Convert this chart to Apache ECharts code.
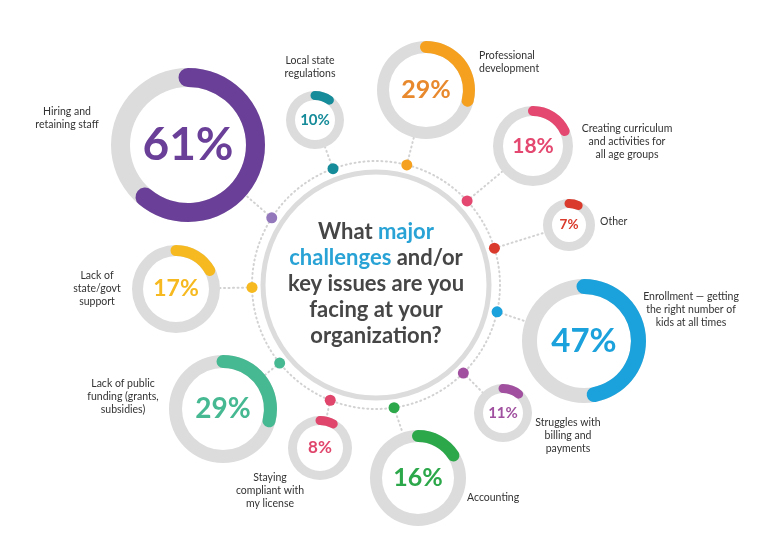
<!DOCTYPE html>
<html><head><meta charset="utf-8">
<script src="https://cdn.jsdelivr.net/npm/echarts@6/dist/echarts.min.js"></script>
<style>html,body{margin:0;padding:0;background:#fff}#c{width:772px;height:534px}</style>
</head><body><div id="c"></div>
<script>
// ---- data ----
const categories = [
  'Hiring and\nretaining staff',
  'Local state\nregulations',
  'Professional\ndevelopment',
  'Creating curriculum\nand activities for\nall age groups',
  'Other',
  'Enrollment — getting\nthe right number of\nkids at all times',
  'Struggles with\nbilling and\npayments',
  'Accounting',
  'Staying\ncompliant with\nmy license',
  'Lack of public\nfunding (grants,\nsubsidies)',
  'Lack of\nstate/govt\nsupport'
];
const values = [61, 10, 29, 18, 7, 47, 11, 16, 8, 29, 17];
const questionLines = [
  [['What ', 0], ['major', 1]],
  [['challenges', 1], [' and/or', 0]],
  [['key issues are you', 0]],
  [['facing at your', 0]],
  [['organization?', 0]]
];

// ---- layout & style ----
const ringCenters = [[188,145],[315,120],[426,90],[533,146],[569,225],[584,341],[503,413],[418,478],[320,448],[223,409],[176,289]];
const ringRadii   = [77, 29, 49, 40, 26, 62, 29, 48, 32, 54, 44];
const ringWidths  = [19, 9, 12, 10, 9, 15, 9, 12, 9, 13, 11];
const valueFontSizes = [46, 15, 25, 21, 13.5, 33, 15, 25, 17, 28, 23];
const labelPositions = [[67,118,'center'],[310,67,'center'],[479,62,'left'],[627,142,'center'],[600,222,'left'],[691,310,'center'],[568,436,'center'],[467,498,'left'],[270,491,'center'],[123,397,'center'],[97,289,'center']];
const dotAngleOffsets = [-3.9, 0, 0, -1.2, 0, -2.6, 0, 3.9, 2.7, 0, 0];
const arcColors  = ['#6A3F98','#168B99','#F5A11F','#E4476F','#D93A2B','#1BA1DB','#A0509F','#2CA84B','#E0456B','#46B892','#F6B91F'];
const textColors = ['#6A3F98','#168B99','#E8892D','#E4476F','#D93A2B','#1BA1DB','#A0509F','#2CA84B','#E0456B','#46B892','#F6B91F'];
const dotColors  = ['#9478BC','#168B99','#F5A11F','#E4476F','#D93A2B','#1BA1DB','#A0509F','#2CA84B','#E0456B','#46B892','#F6B91F'];
const hub = [376, 285];
const hubRadius = 113;
const dotRingRadius = 124;
const trackColor = '#DCDCDC';
const FONT = 'Lato, "Open Sans", sans-serif';

const chart = echarts.init(document.getElementById('c'));

const series = values.map((v, i) => ({
  type: 'gauge',
  center: ringCenters[i],
  radius: ringRadii[i],
  startAngle: 90,
  endAngle: -270,
  min: 0, max: 100,
  animation: false,
  axisLine: { lineStyle: { width: ringWidths[i], color: [[1, trackColor]] } },
  progress: { show: true, width: ringWidths[i], roundCap: true, itemStyle: { color: arcColors[i] } },
  pointer: { show: false },
  anchor: { show: false },
  axisTick: { show: false },
  splitLine: { show: false },
  axisLabel: { show: false },
  title: { show: false },
  detail: {
    offsetCenter: [0, 0],
    formatter: '{value}%',
    fontSize: valueFontSizes[i],
    fontWeight: 'bold',
    fontFamily: FONT,
    color: textColors[i]
  },
  data: [{ value: v, name: categories[i] }]
}));

const graphics = [];
graphics.push({ type: 'circle', z: 0, shape: { cx: hub[0], cy: hub[1], r: dotRingRadius },
  style: { fill: 'none', stroke: '#D2D2D2', lineWidth: 2, lineDash: [1, 3.5], lineCap: 'round' } });
graphics.push({ type: 'circle', z: 1, shape: { cx: hub[0], cy: hub[1], r: hubRadius },
  style: { fill: '#fff', stroke: trackColor, lineWidth: 5 } });

values.forEach((v, i) => {
  const [cx, cy] = ringCenters[i];
  const base = Math.atan2(cy - hub[1], cx - hub[0]) + dotAngleOffsets[i] * Math.PI / 180;
  const px = hub[0] + Math.cos(base) * dotRingRadius, py = hub[1] + Math.sin(base) * dotRingRadius;
  const dx = cx - px, dy = cy - py;
  const len = Math.sqrt(dx * dx + dy * dy);
  const ex = cx - dx / len * ringRadii[i], ey = cy - dy / len * ringRadii[i];
  graphics.push({ type: 'line', z: 0, shape: { x1: px, y1: py, x2: ex, y2: ey },
    style: { stroke: '#D2D2D2', lineWidth: 2, lineDash: [1, 3.5], lineCap: 'round' } });
  graphics.push({ type: 'circle', z: 5, shape: { cx: px, cy: py, r: 5.5 }, style: { fill: dotColors[i] } });
  const lp = labelPositions[i];
  graphics.push({ type: 'text', z: 5, x: lp[0], y: lp[1],
    style: { text: categories[i], fill: '#333333', fontSize: 10.5, fontFamily: FONT,
      align: lp[2], verticalAlign: 'middle', lineHeight: 13 } });
});

const qText = questionLines.map(line => line.map(([t, hl]) => '{' + (hl ? 'b' : 'd') + '|' + t + '}').join('')).join('\n');
graphics.push({ type: 'text', z: 6, x: hub[0], y: hub[1] - 1,
  style: { text: qText, align: 'center', verticalAlign: 'middle', fontSize: 22, fontWeight: 'bold', fontFamily: FONT, lineHeight: 25.8,
    rich: {
      d: { fill: '#464646', fontSize: 22, fontWeight: 'bold', fontFamily: FONT, lineHeight: 25.8 },
      b: { fill: '#29A3D5', fontSize: 22, fontWeight: 'bold', fontFamily: FONT, lineHeight: 25.8 }
    } } });

chart.setOption({
  backgroundColor: '#fff',
  animation: false,
  graphic: { elements: graphics },
  series: series
});
</script></body></html>
